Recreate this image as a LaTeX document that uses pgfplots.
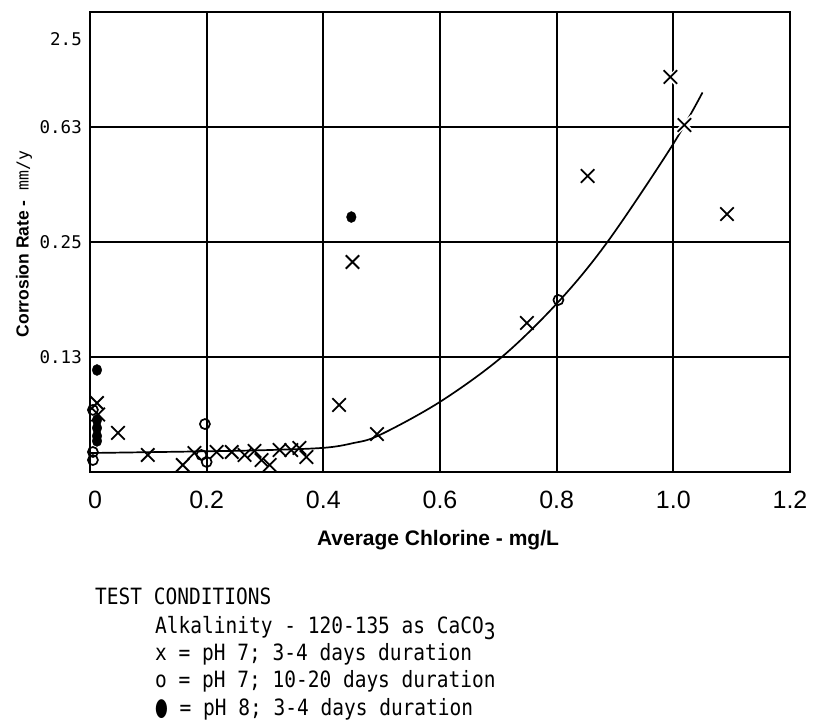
\documentclass[border=0pt]{standalone}
\usepackage{fontspec}
\setmainfont{Liberation Sans}
\newfontfamily\mono{DejaVu Sans Mono}
\newfontfamily\dejavu{DejaVu Sans}
\usepackage{pgfplots}
\pgfplotsset{compat=1.18}
\begin{document}
\begin{tikzpicture}
\path[use as bounding box] (0,0) rectangle (816bp,728bp);
\begin{axis}[
  at={(90bp,256bp)}, anchor=south west,
  scale only axis, width=700bp, height=460bp,
  xmin=0, xmax=1.2, ymin=0, ymax=4,
  axis line style={line width=2.4bp},
  xtick={0,0.2,0.4,0.6,0.8,1.0,1.2},
  xticklabels={\hspace*{10bp}0,0.2,0.4,0.6,0.8,1.0,1.2},
  ytick={1,2,3}, yticklabels={0.13,0.25,0.63},
  extra y ticks={3.76}, extra y tick labels={2.5},
  extra y tick style={grid=none},
  major tick length=0pt,
  grid=major,
  major grid style={line width=2bp, black},
  xticklabel style={font=\fontsize{25bp}{28bp}\selectfont, anchor=center, yshift=-28bp, inner sep=0pt},
  yticklabel style={font=\mono\fontsize{17.5bp}{20bp}\selectfont, anchor=east, inner sep=0pt, xshift=-8bp},
  clip=false,
]
% white halos (gaps in grid lines around marks)
\addplot[only marks, mark=x, mark size=12bp, mark options={line width=5bp, white}]
  coordinates {(0.995,3.43) (1.019,3.02)};
% fitted curve
\addplot[smooth, tension=0.55, line width=1.7bp, black] coordinates {
  (0.0,0.165) (0.2,0.18) (0.3,0.19) (0.4,0.21) (0.45,0.25)
  (0.496,0.32) (0.6,0.61) (0.706,1.0) (0.803,1.48) (0.887,2.0)
  (0.997,2.83) (1.05,3.30)};
% x = pH 7; 3-4 days
\addplot[only marks, mark=x, mark size=9.5bp, mark options={line width=1.8bp, black}] coordinates {
  (0.012,0.60) (0.014,0.50) (0.048,0.34) (0.099,0.148) (0.159,0.061)
  (0.179,0.165) (0.217,0.174) (0.243,0.174) (0.265,0.148) (0.282,0.183)
  (0.294,0.104) (0.308,0.061) (0.325,0.191) (0.345,0.191) (0.359,0.209)
  (0.371,0.130) (0.427,0.583) (0.492,0.330) (0.450,1.826) (0.749,1.296)
  (0.853,2.574) (0.995,3.435) (1.019,3.017) (1.092,2.243)};
% o = pH 7; 10-20 days
\addplot[only marks, mark=o, mark size=5bp, mark options={line width=1.7bp, black, fill=white}] coordinates {
  (0.005,0.54) (0.005,0.174) (0.005,0.104) (0.197,0.417) (0.191,0.148)
  (0.200,0.087) (0.803,1.496)};
% filled = pH 8; 3-4 days
\addplot[only marks, mark=*, mark size=4.8bp, mark options={black, yscale=1.15}] coordinates {
  (0.012,0.887) (0.448,2.217) (0.012,0.452) (0.012,0.383) (0.012,0.313) (0.012,0.27)};
\end{axis}
% axis titles
\node[rotate=90, anchor=center] at (24bp,484bp)
  {\fontsize{17.5bp}{20bp}\selectfont\bfseries Corrosion Rate -\ \ {\mdseries\mono\fontsize{16.5bp}{19bp}\selectfont mm/y}};
\node[anchor=center] at (438bp,188bp)
  {\fontsize{21bp}{24bp}\selectfont\bfseries Average Chlorine - mg/L};
% test conditions
\begin{scope}[every node/.style={anchor=base west, inner sep=0pt, font=\mono\fontsize{19.5bp}{23bp}\selectfont}]
\node at (95bp,123bp) {\scalebox{1}[1.15]{TEST CONDITIONS}};
\node at (155bp,94bp) {\scalebox{1}[1.15]{Alkalinity - 120-135 as CaCO\raisebox{-5bp}{3}}};
\node at (155bp,67bp) {\scalebox{1}[1.15]{x = pH 7; 3-4 days duration}};
\node at (155bp,40bp) {\scalebox{1}[1.15]{o = pH 7; 10-20 days duration}};
\node at (155bp,13bp) {\scalebox{1}[1.15]{\scalebox{0.75}[1.1]{\dejavu ●} = pH 8; 3-4 days duration}};
\end{scope}
\end{tikzpicture}
\end{document}
